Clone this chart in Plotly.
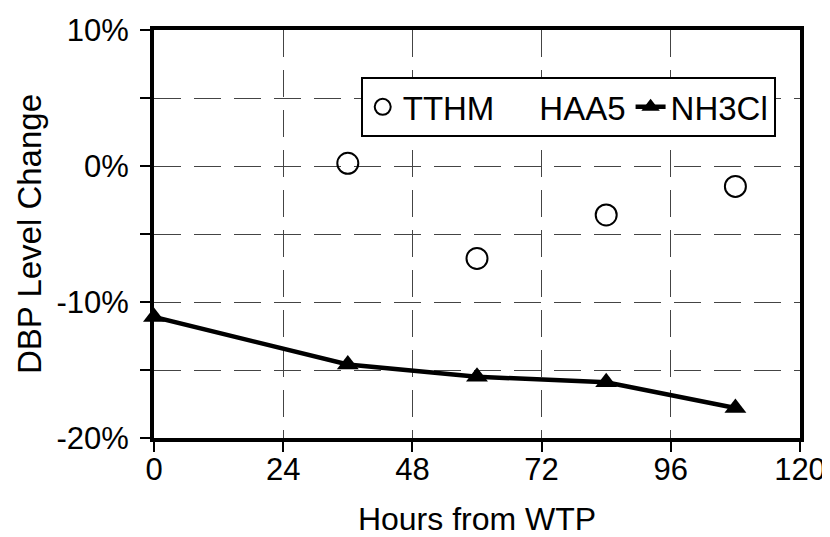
import plotly.graph_objects as go

# Data
hours_tthm = [36, 60, 84, 108]
tthm_change = [0.2, -6.8, -3.6, -1.5]
hours_nh3cl = [0, 36, 60, 84, 108]
nh3cl_change = [-11.1, -14.6, -15.5, -15.9, -17.8]
x_ticks = [0, 24, 48, 72, 96, 120]
y_ticks = [-20, -15, -10, -5, 0, 5, 10]
y_tick_labels = ["-20%", "", "-10%", "", "0%", "", "10%"]

FONT = "Liberation Sans, Arial, sans-serif"

fig = go.Figure()
fig.add_trace(go.Scatter(
    x=hours_tthm, y=tthm_change, name="TTHM", mode="markers",
    marker=dict(symbol="circle-open", size=21, color="black", line=dict(width=2, color="black")),
    cliponaxis=False,
))
fig.add_trace(go.Scatter(
    x=[None], y=[None], name="HAA5", mode="markers",
    marker=dict(size=1, color="rgba(0,0,0,0)"),
))
fig.add_trace(go.Scatter(
    x=hours_nh3cl, y=nh3cl_change, name="NH3Cl", mode="lines+markers",
    line=dict(color="black", width=4.5),
    marker=dict(symbol="triangle-up", size=19, color="black"),
    cliponaxis=False,
))

grid = dict(showgrid=True, gridcolor="#444444", griddash="27px,13px", gridwidth=1.3)

fig.update_xaxes(
    range=[0, 120], tickmode="array", tickvals=x_ticks,
    ticks="outside", ticklen=10, tickwidth=1.5, tickcolor="black",
    showline=True, linewidth=4, linecolor="black", mirror=True,
    zeroline=False, automargin=False, ticklabelstandoff=-9, ticklabeloverflow="allow",
    title=dict(text="Hours from WTP", font=dict(size=32, color="black", family=FONT), standoff=28),
    tickfont=dict(size=31, color="black", family=FONT),
    **grid,
)
fig.update_yaxes(
    range=[-20, 10], tickmode="array", tickvals=y_ticks, ticktext=y_tick_labels,
    ticks="outside", ticklen=10, tickwidth=1.5, tickcolor="black",
    showline=True, linewidth=4, linecolor="black", mirror=True,
    zeroline=False, automargin=False, ticklabelstandoff=5, ticklabeloverflow="allow",
    title=dict(text="DBP Level Change", font=dict(size=33, color="black", family=FONT), standoff=6),
    tickfont=dict(size=31, color="black", family=FONT),
    **grid,
)

# The page body adds an 8px offset; size the figure so the plot lands where the reference has it.
fig.update_layout(
    width=822, height=529,
    margin=dict(l=146, r=30, t=22, b=99),
    paper_bgcolor="white", plot_bgcolor="white",
    font=dict(family=FONT, color="black", size=31),
    legend=dict(
        orientation="h", x=0.32, y=0.885, xanchor="left", yanchor="top",
        bgcolor="white", bordercolor="black", borderwidth=2,
        font=dict(size=33, color="black", family=FONT),
        itemwidth=30, tracegroupgap=0,
    ),
)

fig.write_html("out.html")
